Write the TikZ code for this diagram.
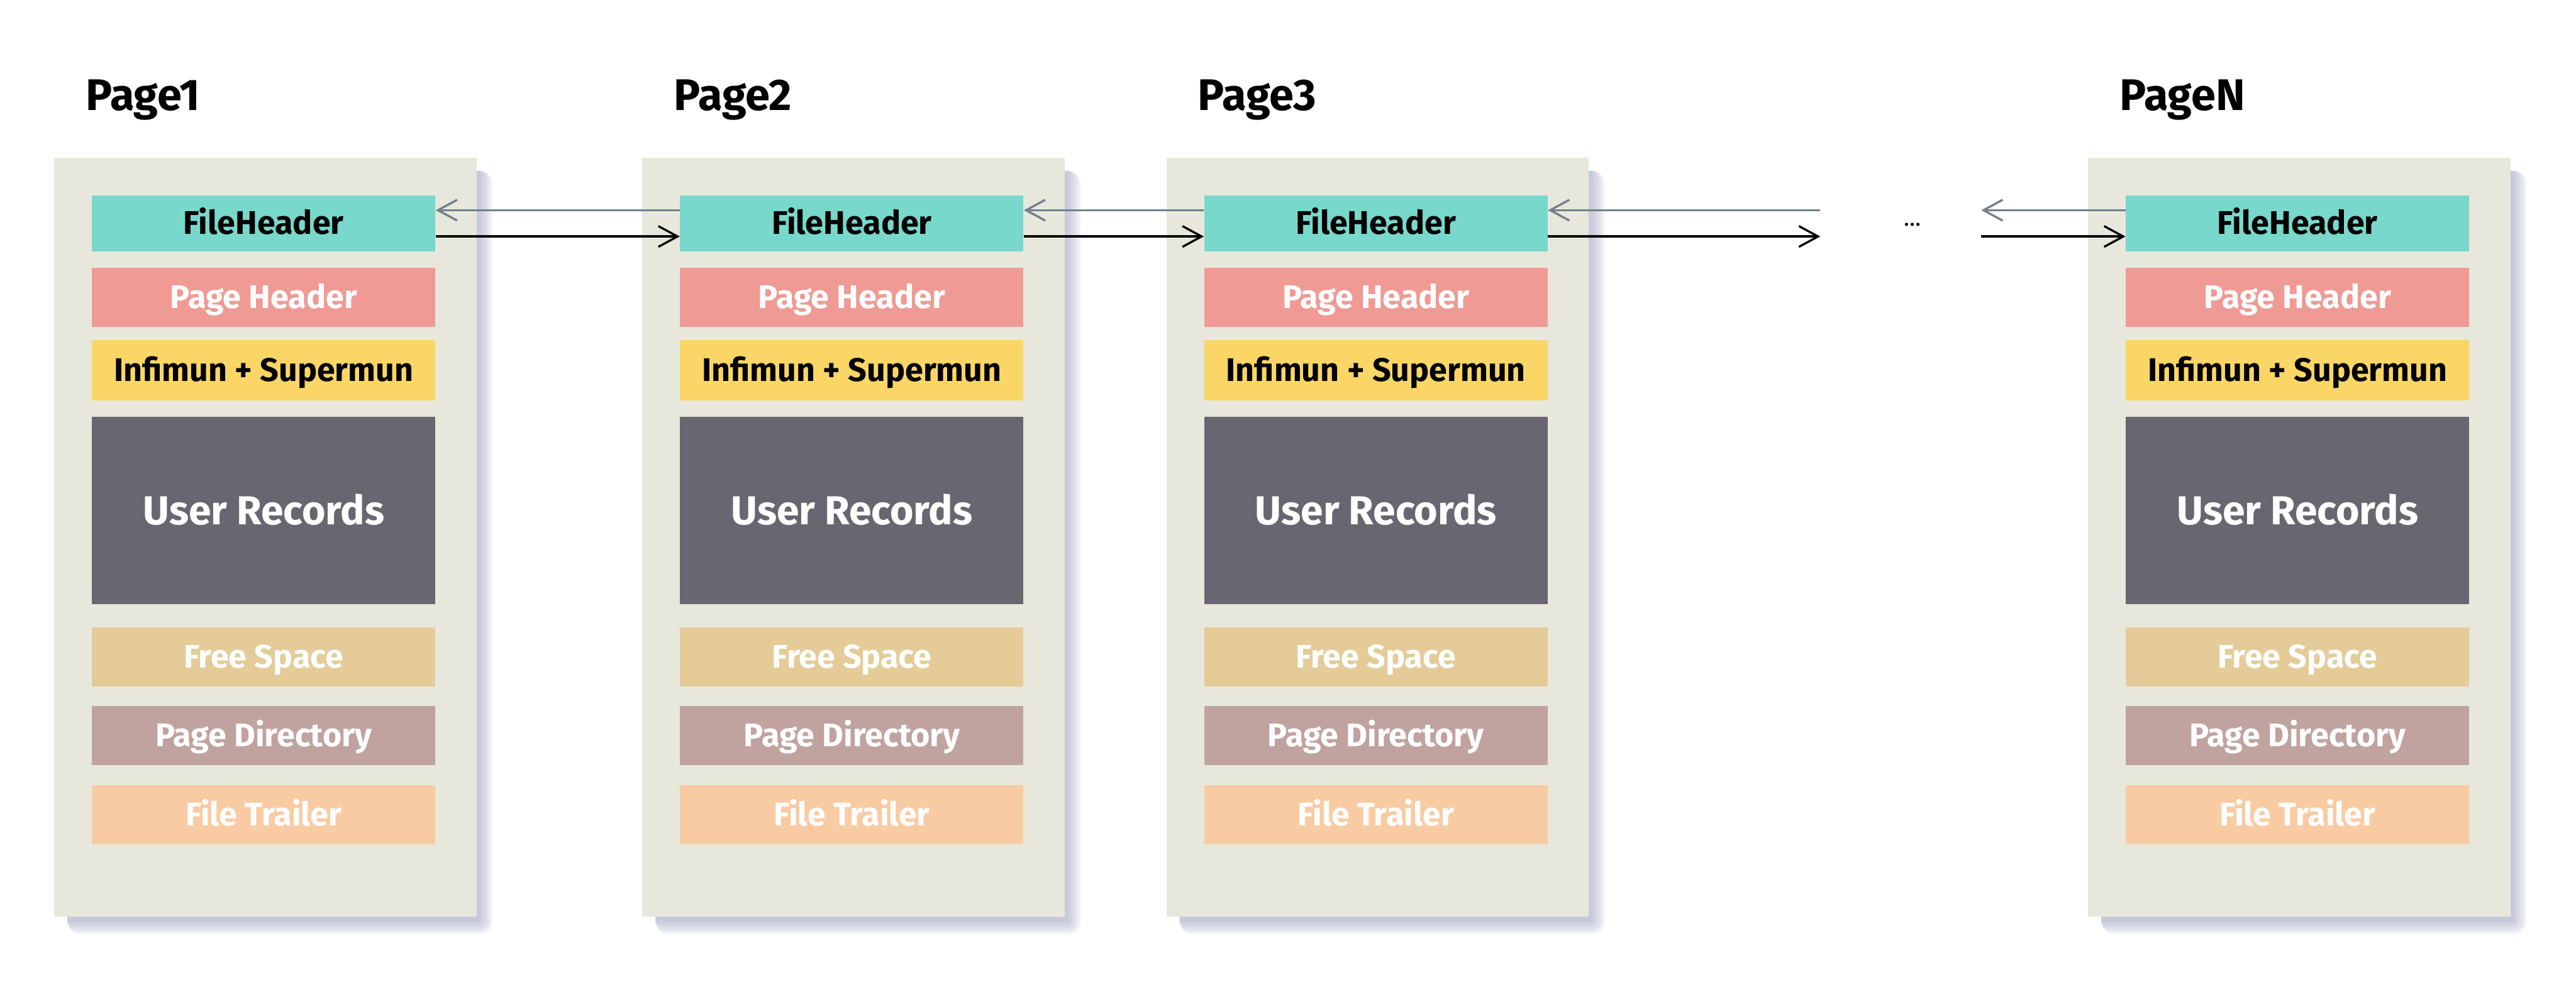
\documentclass[tikz,border=0pt]{standalone}
\usepackage{fontspec}
\setmainfont{Fira Sans}
\usetikzlibrary{arrows.meta}
\definecolor{pagebg}{HTML}{E7E8DB}
\definecolor{shadowc}{HTML}{9EA2BE}
\definecolor{fhc}{HTML}{79D8CC}
\definecolor{phc}{HTML}{EF9A94}
\definecolor{infc}{HTML}{FAD666}
\definecolor{urc}{HTML}{686670}
\definecolor{fsc}{HTML}{E4CB97}
\definecolor{pdc}{HTML}{C0A29F}
\definecolor{ftc}{HTML}{F9CBA3}
\definecolor{backc}{HTML}{6F808C}
\tikzstyle{block} = [rectangle, minimum width=6.27cm, minimum height=1.08cm, inner sep=0pt, text height=11.5pt, text depth=0pt, text centered, text=white, font=\bfseries\fontsize{17}{17}\selectfont]
\tikzstyle{title} = [anchor=base west, inner sep=0pt, font=\bfseries\fontsize{23}{23}\selectfont]
\tikzstyle{next} = [line width=1.1pt, -{Straight Barb[length=0.35cm,width=0.38cm]}]
\tikzstyle{prev} = [next, draw=backc]

\begin{document}
\begin{tikzpicture}[x=0.03cm, y=-0.03cm]
\useasboundingbox (0,0) rectangle (1568,601);
\foreach \p/\x/\t in {1/33/Page1, 2/391/Page2, 3/710/Page3, n/1271/PageN} {
  % soft shadow behind the page
  \foreach \r in {0,...,8}
    \fill[shadowc, opacity=0.09, rounded corners=\r*0.03cm] (\x+8,104) rectangle (\x+259+\r,561+\r);
  \fill[pagebg] (\x,96) rectangle (\x+257,558);
  \node (t\p) [title] at (\x+19,67) {\t};
  \node (fh\p) [block, fill=fhc, text=black, minimum height=1.02cm] at (\x+127.5,136) {FileHeader};
  \node (ph\p) [block, fill=phc] at (\x+127.5,181) {Page Header};
  \node (inf\p) [block, fill=infc, text=black, minimum height=1.11cm] at (\x+127.5,225.5) {Infimun + Supermun};
  \node (ur\p) [block, fill=urc, minimum height=3.42cm, text height=14.2pt, font=\bfseries\fontsize{21}{21}\selectfont] at (\x+127.5,311) {User Records};
  \node (fs\p) [block, fill=fsc] at (\x+127.5,400) {Free Space};
  \node (pd\p) [block, fill=pdc] at (\x+127.5,448) {Page Directory};
  \node (ft\p) [block, fill=ftc] at (\x+127.5,496) {File Trailer};
}
\coordinate (gapl) at (1108,136);
\coordinate (gapr) at (1206,136);
\node (dots) at (1164,137) {\fontsize{12}{12}\selectfont\ldots};

\draw [next] ([yshift=-0.24cm]fh1.east) -- ([yshift=-0.24cm]fh2.west);
\draw [prev] ([yshift=0.24cm]fh2.west) -- ([yshift=0.24cm]fh1.east);
\draw [next] ([yshift=-0.24cm]fh2.east) -- ([yshift=-0.24cm]fh3.west);
\draw [prev] ([yshift=0.24cm]fh3.west) -- ([yshift=0.24cm]fh2.east);
\draw [next] ([yshift=-0.24cm]fh3.east) -- ([yshift=-0.24cm]gapl);
\draw [prev] ([yshift=0.24cm]gapl) -- ([yshift=0.24cm]fh3.east);
\draw [next] ([yshift=-0.24cm]gapr) -- ([yshift=-0.24cm]fhn.west);
\draw [prev] ([yshift=0.24cm]fhn.west) -- ([yshift=0.24cm]gapr);
\end{tikzpicture}
\end{document}
